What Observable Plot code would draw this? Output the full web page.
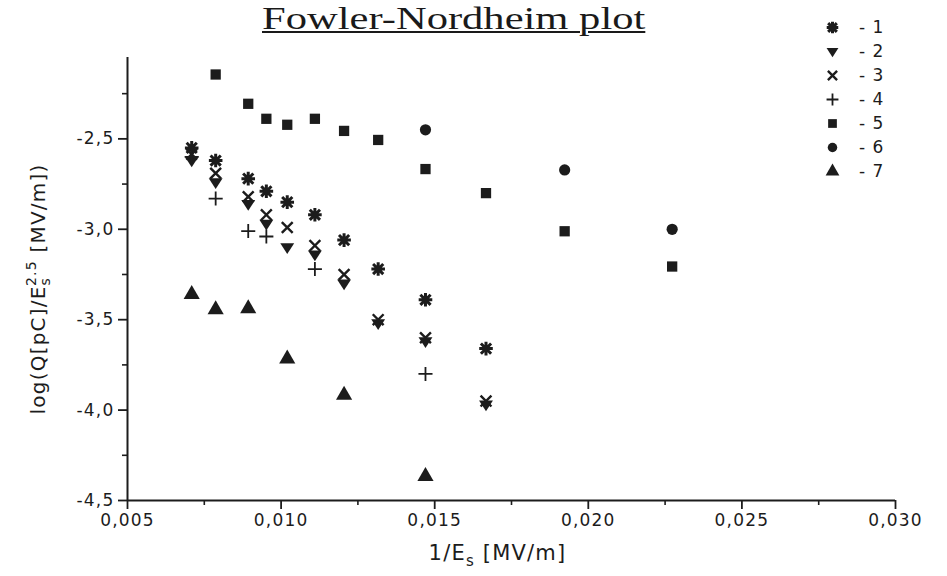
<!DOCTYPE html>
<html>
<head>
<meta charset="utf-8">
<script src="https://cdn.jsdelivr.net/npm/d3@7"></script>
<script src="https://cdn.jsdelivr.net/npm/@observablehq/plot@0.6"></script>
<style>
  body { margin: 0; background: #ffffff; }
  #wrap { position: relative; width: 947px; height: 576px; overflow: hidden; }
  #title {
    position: absolute; left: 262px; top: 0px;
    font-family: "Liberation Serif", "Times New Roman", serif;
    font-size: 32px; line-height: normal; color: #1a1a1a; white-space: nowrap;
    transform: scaleX(1.33); transform-origin: left top;
    text-decoration: underline; text-decoration-thickness: 2px; text-underline-offset: 2px;
  }
  #legend { position: absolute; left: 810px; top: 0px; }
  #chart { position: absolute; left: 0; top: 0; }
</style>
</head>
<body>
<div id="wrap">
  <div id="chart"></div>
  <div id="title">Fowler-Nordheim plot</div>
  <div id="legend"></div>
</div>
<script>
// ---- data ----
const invE = [0.00709, 0.00787, 0.00893, 0.00952, 0.0102, 0.0111, 0.01205, 0.01316, 0.0147, 0.01667, 0.01923, 0.02273];
const s1 = [-2.55, -2.62, -2.72, -2.79, -2.85, -2.92, -3.06, -3.22, -3.39, -3.66, null, null];
const s2 = [-2.62, -2.74, -2.86, -2.97, -3.10, -3.14, -3.30, -3.52, -3.62, -3.97, null, null];
const s3 = [-2.585, -2.69, -2.82, -2.92, -2.99, -3.09, -3.25, -3.50, -3.60, -3.95, null, null];
const s4 = [-2.60, -2.83, -3.01, -3.04, null, -3.22, null, null, -3.80, null, null, null];
const s5 = [null, -2.144, -2.306, -2.389, -2.422, -2.389, -2.456, -2.506, -2.667, -2.80, -3.011, -3.206];
const s6 = [null, null, null, null, null, null, null, null, -2.45, null, -2.672, -3.00];
const s7 = [-3.36, -3.444, -3.439, null, -3.717, null, -3.917, null, -4.367, null, null, null];
const seriesNames = ["1", "2", "3", "4", "5", "6", "7"];
const seriesValues = [s1, s2, s3, s4, s5, s6, s7];
const xTicks = [0.005, 0.010, 0.015, 0.020, 0.025, 0.030];
const xMinor = [0.0075, 0.0125, 0.0175, 0.0225, 0.0275];
const yTicks = [-4.5, -4.0, -3.5, -3.0, -2.5];
const yMinor = [-4.25, -3.75, -3.25, -2.75, -2.25];
const yLabelParts = ["log(Q[pC]/E", "s", "2.5", " [MV/m])"];
const xLabelParts = ["1/E", "s", " [MV/m]"];

// ---- symbols ----
const asterisk8 = {draw(ctx, size) {
  const r = Math.sqrt(size / Math.PI), d = r * 0.75;
  ctx.moveTo(0, -r); ctx.lineTo(0, r);
  ctx.moveTo(-r, 0); ctx.lineTo(r, 0);
  ctx.moveTo(-d, -d); ctx.lineTo(d, d);
  ctx.moveTo(-d, d); ctx.lineTo(d, -d);
}};
const triDown = {draw(ctx, size) {
  const r = Math.sqrt(size / Math.PI);
  ctx.moveTo(-r * 1.2, -r * 0.7); ctx.lineTo(r * 1.2, -r * 0.7); ctx.lineTo(0, r * 1.15); ctx.closePath();
}};
const ink = "#1c1c1c";
const seriesStyle = [
  {symbol: asterisk8, r: 6.8, fill: "none", stroke: ink, strokeWidth: 3},
  {symbol: triDown, r: 5.8, fill: ink, stroke: "none"},
  {symbol: "times", r: 5, fill: "none", stroke: ink, strokeWidth: 2.4},
  {symbol: "plus", r: 4.6, fill: "none", stroke: ink, strokeWidth: 1.8},
  {symbol: "square", r: 5.8, fill: ink, stroke: "none"},
  {symbol: "circle", r: 5.6, fill: ink, stroke: "none"},
  {symbol: "triangle", r: 6, fill: ink, stroke: "none"}
];

const rows = [];
seriesValues.forEach((vals, i) => vals.forEach((v, j) => {
  if (v != null) rows.push({x: invE[j], y: v, s: seriesNames[i]});
}));

const fmt = (n, k) => n.toFixed(k).replace(".", ",");
const font = "'DejaVu Sans', 'Liberation Sans', Arial, sans-serif";

const chart = Plot.plot({
  width: 947, height: 576,
  marginLeft: 127, marginRight: 52, marginTop: 57, marginBottom: 76,
  x: {domain: [0.005, 0.030]},
  y: {domain: [-4.5, -2.05]},
  style: {fontFamily: font, fontSize: "17px", color: ink, background: "transparent", letterSpacing: "1.2px"},
  marks: [
    Plot.axisX({ticks: xTicks, tickSize: 9, tickPadding: 4, tickFormat: d => fmt(d, 3), label: null, strokeWidth: 1.8}),
    Plot.axisX({ticks: xMinor, tickSize: 5, tickFormat: () => "", label: null, strokeWidth: 1.6}),
    Plot.axisY({ticks: yTicks, tickSize: 9, tickPadding: 4, tickFormat: d => fmt(d, 1), label: null, strokeWidth: 1.8}),
    Plot.axisY({ticks: yMinor, tickSize: 5, tickFormat: () => "", label: null, strokeWidth: 1.6}),
    Plot.ruleY([-4.5], {stroke: ink, strokeWidth: 2}),
    Plot.ruleX([0.005], {stroke: ink, strokeWidth: 2}),
    ...seriesNames.map((name, i) => Plot.dot(rows.filter(d => d.s === name), {x: "x", y: "y", ...seriesStyle[i]})),
    Plot.text([yLabelParts.join("")], {frameAnchor: "left", dx: -89, dy: 10, rotate: -90, textAnchor: "middle", lineAnchor: "middle", fontSize: 20, fill: ink}),
    Plot.text([xLabelParts.join("")], {frameAnchor: "bottom", dx: -14, dy: 53, textAnchor: "middle", lineAnchor: "middle", fontSize: 21, fill: ink})
  ]
});

// sub/superscripts in axis labels
d3.select(chart).selectAll("text").each(function() {
  const t = this.textContent;
  if (t === yLabelParts.join("")) {
    this.textContent = "";
    const sel = d3.select(this);
    sel.append("tspan").text(yLabelParts[0]);
    sel.append("tspan").attr("font-size", 14).attr("dy", 5).text(yLabelParts[1]);
    sel.append("tspan").attr("font-size", 14).attr("dx", -9).attr("dy", -14).text(yLabelParts[2]);
    sel.append("tspan").attr("font-size", 20).attr("dy", 9).text(yLabelParts[3]);
  } else if (t === xLabelParts.join("")) {
    this.textContent = "";
    const sel = d3.select(this);
    sel.append("tspan").text(xLabelParts[0]);
    sel.append("tspan").attr("font-size", 15).attr("dy", 6).text(xLabelParts[1]);
    sel.append("tspan").attr("font-size", 21).attr("dy", -6).text(xLabelParts[2]);
  }
});
document.getElementById("chart").append(chart);

const legend = Plot.plot({
  width: 110, height: 190,
  marginTop: 24, marginBottom: 17, marginLeft: 0, marginRight: 0,
  x: {domain: [0, 1], axis: null},
  y: {type: "point", domain: seriesNames, axis: null, padding: 0},
  style: {fontFamily: font, fontSize: "17px", color: ink, background: "transparent", letterSpacing: "1px"},
  marks: [
    ...seriesNames.map((name, i) => Plot.dot([name], {x: () => 0.2, y: d => d, ...seriesStyle[i], r: seriesStyle[i].r * 0.85})),
    Plot.text(seriesNames, {x: () => 0.44, y: d => d, text: d => "- " + d, textAnchor: "start", fill: ink})
  ]
});
document.getElementById("legend").append(legend);
</script>
</body>
</html>
